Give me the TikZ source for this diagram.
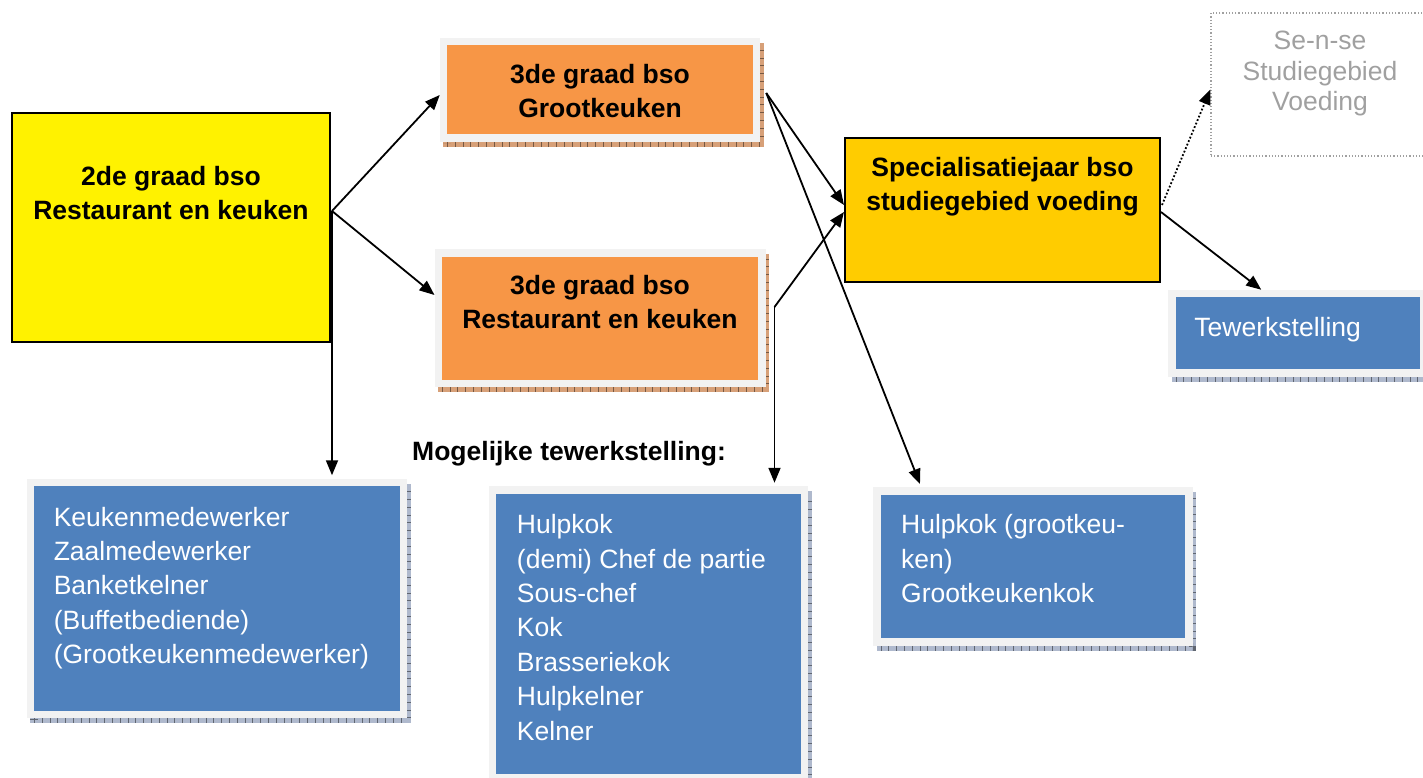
\documentclass[tikz,border=0pt]{standalone}
\usepackage{fontspec}
\setmainfont{Liberation Sans}
\usetikzlibrary{arrows.meta,positioning,calc}
\begin{document}
\begin{tikzpicture}[x=1pt,y=-1pt,
  arr/.style={-{Triangle[length=15pt,width=12pt]},line width=1.8pt},
  plainbox/.style={draw=black,line width=2pt,inner sep=0pt},
  framebox/.style={draw=framegray,line width=7.5pt,inner sep=0pt,
    preaction={draw=#1,line width=7.5pt,transform canvas={xshift=3.5pt,yshift=-5pt}},
    preaction={draw=#1!55!black,line width=7.5pt,dash pattern=on 0.8pt off 7pt,transform canvas={xshift=3.5pt,yshift=-5pt}}},
  title/.style={inner sep=0pt,align=center,font=\fontsize{26.5}{34}\selectfont\bfseries},
  jobtext/.style={inner sep=0pt,align=left,text=white,font=\fontsize{26.5}{34.4}\selectfont}]
\definecolor{framegray}{RGB}{242,242,242}
\definecolor{orangefill}{RGB}{247,150,70}
\definecolor{bluefill}{RGB}{79,129,189}
\definecolor{orangeshade}{RGB}{215,160,120}
\definecolor{blueshade}{RGB}{175,185,205}
\definecolor{goldfill}{RGB}{255,204,0}
\definecolor{sensegray}{RGB}{160,160,160}
\useasboundingbox (0,0) rectangle (1423,778);
\node[plainbox,fill=yellow,minimum width=318pt,minimum height=229pt] (n2de) at (171,227.5) {};
\node[framebox=orangeshade,fill=orangefill,minimum width=313pt,minimum height=96.5pt] (g3grk) at (600,90) {};
\node[framebox=orangeshade,fill=orangefill,minimum width=323.5pt,minimum height=130.5pt] (g3rek) at (600,318) {};
\node[plainbox,fill=goldfill,minimum width=315pt,minimum height=144pt] (spec) at (1002.5,210) {};
\node[draw=sensegray,dotted,line width=1.2pt,minimum width=218pt,minimum height=143pt] (sense) at (1320,84.5) {};
\node[framebox=blueshade,fill=bluefill,minimum width=251.5pt,minimum height=79.5pt] (werk) at (1297.75,333.25) {};
\node[framebox=blueshade,fill=bluefill,minimum width=373pt,minimum height=232pt] (jobs2de) at (217,598.5) {};
\node[framebox=blueshade,fill=bluefill,minimum width=312pt,minimum height=288pt] (jobs3rk) at (648.5,634) {};
\node[framebox=blueshade,fill=bluefill,minimum width=312pt,minimum height=151pt] (jobs3gk) at (1033,566.5) {};
\node[title,below=54pt of n2de.north] (t2de) {2de graad bso\\Restaurant en keuken};
\node[title,below=26.5pt of g3grk.north] (tgrk) {3de graad bso\\Grootkeuken};
\node[title,below=26pt of g3rek.north] (trek) {3de graad bso\\Restaurant en keuken};
\node[title,below=20.5pt of spec.north] (tspec) {Specialisatiejaar bso\\studiegebied voeding};
\node[inner sep=0pt,align=center,text=sensegray,font=\fontsize{26.5}{30.5}\selectfont,below=18.5pt of sense.north] (tsense) {Se-n-se\\Studiegebied\\Voeding};
\node[jobtext,below right=27pt and 26pt of werk.north west] (twerk) {Tewerkstelling};
\node[jobtext,below right=28pt and 26.8pt of jobs2de.north west] (t2dejobs) {Keukenmedewerker\\Zaalmedewerker\\Banketkelner\\(Buffetbediende)\\(Grootkeukenmedewerker)};
\node[jobtext,below right=28pt and 28pt of jobs3rk.north west] (t3rkjobs) {Hulpkok\\(demi) Chef de partie\\Sous-chef\\Kok\\Brasseriekok\\Hulpkelner\\Kelner};
\node[jobtext,below right=27.3pt and 27.7pt of jobs3gk.north west] (t3gkjobs) {Hulpkok (grootkeu-\\ken)\\Grootkeukenkok};
\node[anchor=base west,inner sep=0pt,font=\fontsize{26.5}{34}\selectfont\bfseries] (mogelijk) at (412,460) {Mogelijke tewerkstelling:};
\coordinate (fork) at ($(n2de.east)+(1,-16.5)$);
\coordinate (gk) at ($(g3grk.east)+(6,3)$);
\coordinate (rk) at ($(g3rek.east)+(9,-11)$);
\draw[arr] (fork) -- ($(g3grk.west)+(0,5)$);
\draw[arr] (fork) -- ($(g3rek.west)+(0,-23)$);
\draw[arr,shorten >=3.5pt] (fork) -- (fork |- jobs2de.north);
\draw[arr] (gk) -- ($(spec.west)+(0,-5)$);
\draw[arr,shorten >=3.5pt] (gk) -- ($(jobs3gk.north west)+(48,0)$);
\draw[arr] (rk) -- ($(spec.west)+(0,2)$);
\draw[arr,shorten >=3.5pt] (rk) -- (rk |- jobs3rk.north);
\draw[arr] ($(spec.east)+(0,2)$) -- ($(werk.north west)+(93,0)$);
\draw[arr,dotted] ($(spec.east)+(1,-5)$) -- ($(sense.west)+(0,5)$);
\end{tikzpicture}
\end{document}
